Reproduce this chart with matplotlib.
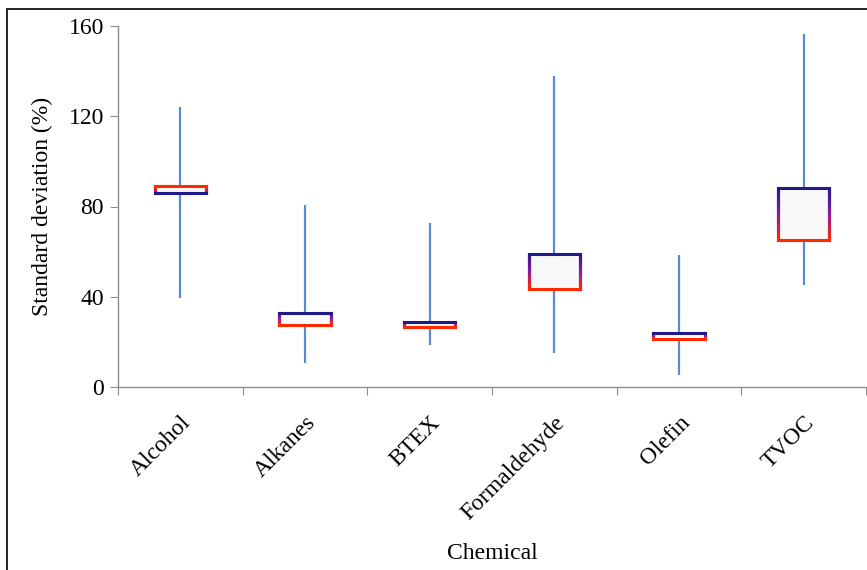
import numpy as np
import matplotlib
matplotlib.use("Agg")
import matplotlib.pyplot as plt
from matplotlib.collections import LineCollection
from matplotlib.colors import LinearSegmentedColormap
from matplotlib.patches import Rectangle

# values (standard deviation, %)
categories = ["Alcohol", "Alkanes", "BTEX", "Formaldehyde", "Olefin", "TVOC"]
low = [39.4, 10.6, 18.6, 15.0, 5.3, 45.2]
high = [124.0, 80.5, 72.6, 137.9, 58.5, 156.5]
navy_edge = [85.8, 32.9, 28.7, 59.0, 23.8, 88.2]   # box edge drawn navy
red_edge = [89.0, 27.5, 26.5, 43.4, 21.1, 65.2]    # box edge drawn red
yticks = [0, 40, 80, 120, 160]

NAVY, RED = "#1f1a8a", "#ff2a00"
WHISKER = "#5b8bc9"
AXIS = "#8c8c8c"
BOX_W = 0.41

plt.rcParams["font.family"] = ["Liberation Serif", "DejaVu Serif"]

fig = plt.figure(figsize=(8.67, 5.7), dpi=100)
ax = fig.add_axes([118 / 867, 1 - 387 / 570, 748 / 867, 361 / 570])

cmap = LinearSegmentedColormap.from_list("nr", [NAVY, "#8a1aa0", RED])
xs = np.arange(len(categories)) + 0.5

for x, lo, hi, nv, rd in zip(xs, low, high, navy_edge, red_edge):
    ax.plot([x, x], [lo, hi], color=WHISKER, lw=1.6, zorder=1, solid_capstyle="butt")
    b0, b1 = min(nv, rd), max(nv, rd)
    ax.add_patch(Rectangle((x - BOX_W / 2, b0), BOX_W, b1 - b0,
                           facecolor="#f8f8f8", edgecolor="none", zorder=2))
    # gradient sides, navy end to red end
    t = np.linspace(0, 1, 40)
    ys = nv + (rd - nv) * t
    for sx in (x - BOX_W / 2, x + BOX_W / 2):
        segs = [[(sx, ys[i]), (sx, ys[i + 1])] for i in range(len(ys) - 1)]
        lc = LineCollection(segs, colors=cmap(t[:-1]), linewidths=2.2, zorder=3,
                            capstyle="projecting")
        ax.add_collection(lc)
    ax.plot([x - BOX_W / 2, x + BOX_W / 2], [nv, nv], color=NAVY, lw=2.2, zorder=4,
            solid_capstyle="projecting")
    ax.plot([x - BOX_W / 2, x + BOX_W / 2], [rd, rd], color=RED, lw=2.2, zorder=4,
            solid_capstyle="projecting")

ax.set_xlim(0, len(categories))
ax.set_ylim(0, 160)
ax.set_yticks(yticks)
ax.set_xticks(np.arange(len(categories) + 1))
ax.set_xticklabels([])
ax.set_xticks(xs, minor=True)
ax.set_xticklabels(categories, minor=True, rotation=45, ha="right",
                   rotation_mode="anchor", fontsize=17)
ax.tick_params(axis="x", which="minor", length=0, pad=18)
ax.tick_params(axis="x", which="major", length=6, color=AXIS, direction="out")
ax.tick_params(axis="y", length=6, color=AXIS, labelsize=17, pad=4)

for s in ("top", "right"):
    ax.spines[s].set_visible(False)
for s in ("left", "bottom"):
    ax.spines[s].set_color(AXIS)
    ax.spines[s].set_linewidth(1.0)

ax.set_ylabel("Standard deviation (%)", fontsize=17, labelpad=11)
ax.set_xlabel("Chemical", fontsize=17, labelpad=14)

# frame around the figure (cut off at right and bottom in the reference)
fig.patches.append(Rectangle((7 / 867, -0.1), 1.2, 1.1 - 9 / 570, transform=fig.transFigure,
                             fill=False, edgecolor="black", lw=1.2))

fig.savefig("out.png", dpi=100)
